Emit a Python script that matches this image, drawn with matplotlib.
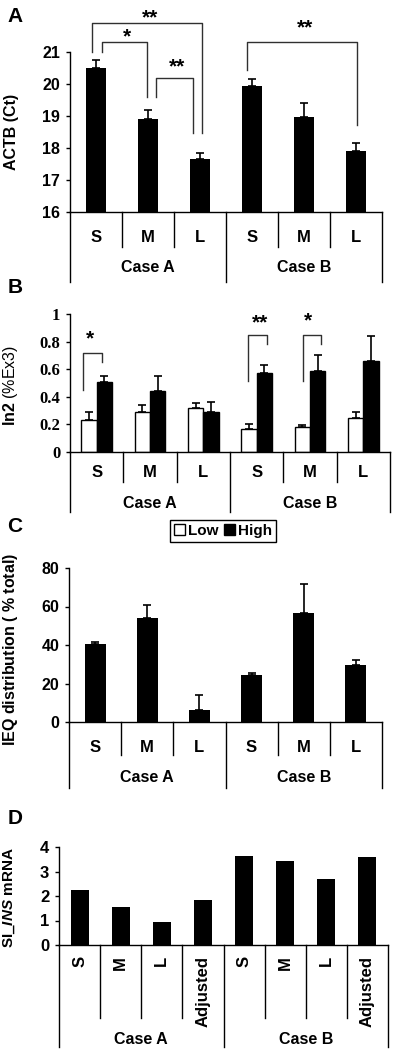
import matplotlib
matplotlib.use('Agg')
import matplotlib.pyplot as plt
import matplotlib.transforms as mtransforms
from matplotlib.patches import Patch
from matplotlib.lines import Line2D
import numpy as np

plt.rcParams['font.family'] = ['Liberation Sans', 'DejaVu Sans']
plt.rcParams['font.weight'] = 'bold'
plt.rcParams['mathtext.fontset'] = 'custom'
plt.rcParams['mathtext.rm'] = 'Liberation Sans'
plt.rcParams['mathtext.bf'] = 'Liberation Sans:bold'
plt.rcParams['mathtext.it'] = 'Liberation Sans:italic:bold'

# ---------------- data ----------------
sizes = ['S', 'M', 'L']
cases = ['Case A', 'Case B']

actb_mean = [20.5, 18.9, 17.65, 19.95, 18.97, 17.9]
actb_err = [0.25, 0.3, 0.2, 0.2, 0.45, 0.27]

ex3_low = [0.23, 0.29, 0.32, 0.165, 0.18, 0.25]
ex3_low_err = [0.06, 0.05, 0.035, 0.035, 0.015, 0.04]
ex3_high = [0.51, 0.44, 0.29, 0.57, 0.585, 0.66]
ex3_high_err = [0.04, 0.11, 0.07, 0.06, 0.12, 0.18]

ieq_mean = [40.5, 54, 6, 24.4, 56.5, 29.8]
ieq_err = [1, 7, 8, 1.2, 15, 2.5]

d_labels = ['S', 'M', 'L', 'Adjusted']
si_ins = [2.23, 1.55, 0.94, 1.82, 3.62, 3.41, 2.69, 3.58]

# ---------------- layout helpers ----------------
W, H = 400, 1057
fig = plt.figure(figsize=(W / 100, H / 100), dpi=100)


def add_ax(left, right, top, bottom):
    return fig.add_axes([left / W, 1 - bottom / H, (right - left) / W, (bottom - top) / H])


def style(ax, yticks, tickfont=None, size=11):
    for s in ['top', 'right']:
        ax.spines[s].set_visible(False)
    for s in ['left', 'bottom']:
        ax.spines[s].set_linewidth(1.0)
    ax.set_xticks([])
    ax.set_yticks(yticks)
    ax.tick_params(axis='y', direction='out', length=3, width=1, pad=4)
    for lab in ax.get_yticklabels():
        lab.set_fontweight('bold')
        lab.set_fontsize(size)
        if tickfont:
            lab.set_fontfamily(tickfont)


def table(ax, n_per, sub_labels, bottom_px, inner_px, outer_px, lab_px, case_px,
          rot=False, fs=12, cfs=11.5):
    tr = mtransforms.blended_transform_factory(ax.transData, fig.transFigure)
    n = n_per * len(cases)
    for i in range(n + 1):
        x = i - 0.5
        depth = outer_px if i % n_per == 0 else inner_px
        ax.add_artist(Line2D([x, x], [1 - bottom_px / H, 1 - (bottom_px + depth) / H],
                             transform=tr, color='black', lw=1, clip_on=False))
    for i in range(n):
        lab = sub_labels[i % n_per]
        if rot:
            ax.text(i, 1 - (bottom_px + lab_px) / H, lab, transform=tr, rotation=90,
                    ha='center', va='top', fontsize=fs, fontweight='bold')
        else:
            ax.text(i, 1 - (bottom_px + lab_px) / H, lab, transform=tr,
                    ha='center', va='center', fontsize=fs, fontweight='bold')
    for g, c in enumerate(cases):
        ax.text(g * n_per + (n_per - 1) / 2, 1 - (bottom_px + case_px) / H, c, transform=tr,
                ha='center', va='center', fontsize=cfs, fontweight='bold')


def bracket(ax, xs, ys, star, sx, sy):
    ax.plot(xs, ys, color='#303030', lw=1, clip_on=False)
    ax.text(sx, sy, star, ha='center', va='center', fontsize=15, fontweight='bold', clip_on=False)


x6 = np.arange(6)
err_kw = dict(fmt='none', ecolor='black', elinewidth=1.2, capsize=3, capthick=1.2)

# ---------------- Panel A ----------------
axA = add_ax(70, 382, 52, 212)
axA.bar(x6, actb_mean, width=0.38, color='black', bottom=0)
axA.errorbar(x6, actb_mean, yerr=[np.zeros(6), actb_err], **err_kw)
bracket(axA, [-0.08, -0.08, 2.04, 2.04], [21.0, 21.9, 21.9, 18.47], '**', 1.04, 22.08)
bracket(axA, [0.12, 0.12, 0.98, 0.98], [21.0, 21.31, 21.31, 19.6], '*', 0.6, 21.48)
bracket(axA, [1.15, 1.15, 1.87, 1.87], [19.6, 20.19, 20.19, 18.47], '**', 1.56, 20.55)
bracket(axA, [2.9, 2.9, 5.02, 5.02], [20.44, 21.31, 21.31, 18.72], '**', 4.02, 21.75)
axA.set_xlim(-0.5, 5.5)
axA.set_ylim(16, 21)
style(axA, [16, 17, 18, 19, 20, 21], size=11.5)
axA.set_ylabel('ACTB (Ct)', fontsize=11.5, fontweight='bold')
axA.yaxis.set_label_coords((19 - 70) / 312, 0.5)
table(axA, 3, sizes, 212, 35, 70, 25, 56)

# ---------------- Panel B ----------------
axB = add_ax(70, 390, 314, 452)
axB.bar(x6 - 0.145, ex3_low, width=0.29, color='white', edgecolor='black', lw=1)
axB.bar(x6 + 0.145, ex3_high, width=0.29, color='black', edgecolor='black', lw=1)
axB.errorbar(x6 - 0.145, ex3_low, yerr=[np.zeros(6), ex3_low_err], **err_kw)
axB.errorbar(x6 + 0.145, ex3_high, yerr=[np.zeros(6), ex3_high_err], **err_kw)
bracket(axB, [-0.25, -0.25, 0.106, 0.106], [0.45, 0.72, 0.72, 0.65], '*', -0.125, 0.82)
bracket(axB, [2.83, 2.83, 3.19, 3.19], [0.514, 0.848, 0.848, 0.78], '**', 3.06, 0.937)
bracket(axB, [3.86, 3.86, 4.21, 4.21], [0.514, 0.848, 0.848, 0.78], '*', 3.96, 0.95)
axB.set_xlim(-0.5, 5.5)
axB.set_ylim(0, 1)
style(axB, [0, 0.2, 0.4, 0.6, 0.8, 1.0])
axB.set_yticklabels(['0', '0.2', '0.4', '0.6', '0.8', '1'])
for lab in axB.get_yticklabels():
    lab.set_fontweight('bold'); lab.set_fontsize(12); lab.set_fontfamily('Liberation Serif')
axB.set_ylabel(r'$\mathbf{ln2}$ (%Ex3)', fontsize=11.5, fontweight='normal')
axB.yaxis.set_label_coords((20 - 70) / 320, 0.48)
table(axB, 3, sizes, 452, 30, 60, 21, 51)

fig.legend(handles=[Patch(facecolor='white', edgecolor='black', lw=1, label='Low'),
                    Patch(facecolor='black', edgecolor='black', lw=1, label='High')],
           loc='center', bbox_to_anchor=(223 / W, 1 - 531 / H), ncol=2, frameon=True,
           fancybox=False, edgecolor='black', framealpha=1, handlelength=0.7, handleheight=0.7,
           handletextpad=0.2, columnspacing=0.4, borderpad=0.25, borderaxespad=0,
           prop={'weight': 'bold', 'size': 11})

# ---------------- Panel C ----------------
axC = add_ax(69, 382, 568, 722)
axC.bar(x6, ieq_mean, width=0.4, color='black')
axC.errorbar(x6, ieq_mean, yerr=[np.zeros(6), ieq_err], **err_kw)
axC.set_xlim(-0.5, 5.5)
axC.set_ylim(0, 80)
style(axC, [0, 20, 40, 60, 80], size=11.5)
axC.set_ylabel(r'IEQ distribution ( $\mathrm{\%}$ total)', fontsize=11.5, fontweight='bold')
axC.yaxis.set_label_coords((20 - 69) / 313, 0.47)
table(axC, 3, sizes, 722, 33, 66, 25, 55)

# ---------------- Panel D ----------------
axD = add_ax(59, 388, 847, 945)
x8 = np.arange(8)
axD.bar(x8, si_ins, width=0.44, color='black')
axD.set_xlim(-0.5, 7.5)
axD.set_ylim(0, 4)
style(axD, [0, 1, 2, 3, 4], size=12)
axD.set_ylabel(r'SI_$\mathit{INS}$ mRNA', fontsize=11, fontweight='bold')
axD.yaxis.set_label_coords((17.5 - 59) / 329, 0.48)
table(axD, 4, d_labels, 945, 73, 102, 11, 95, rot=True)

# ---------------- panel letters ----------------
for letter, py in [('A', 17), ('B', 287), ('C', 527), ('D', 818)]:
    fig.text(15 / W, 1 - py / H, letter, ha='center', va='center', fontsize=15, fontweight='bold')

fig.savefig('out.png', dpi=100)
